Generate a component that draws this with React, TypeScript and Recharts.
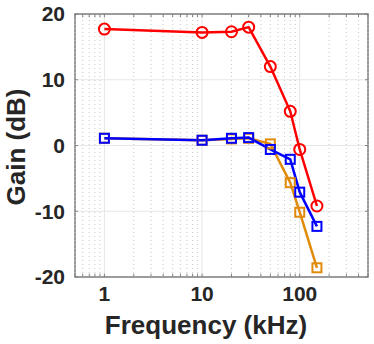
import React from 'react';
import { LineChart, Line, XAxis, YAxis, CartesianGrid, ReferenceLine, ReferenceArea, Label } from 'recharts';

// frequency points (kHz)
const freqs = [1, 10, 20, 30, 50, 80, 100, 150];
const redGain = [17.7, 17.2, 17.3, 18.0, 12.0, 5.2, -0.6, -9.2];
const blueGain = [1.1, 0.8, 1.1, 1.2, -0.6, -2.1, -7.1, -12.3];
const orangeGain = [1.1, 0.8, 1.0, 1.1, 0.25, -5.65, -10.15, -18.6];

const xTicks = [1, 10, 100];
const yTicks = [-20, -10, 0, 10, 20];
const xMinor = [0.5, 0.6, 0.7, 0.8, 0.9, 2, 3, 4, 5, 6, 7, 8, 9, 20, 30, 40, 50, 60, 70, 80, 90, 200, 300, 400, 500];

const data = freqs.map((f, i) => ({ f, red: redGain[i], blue: blueGain[i], orange: orangeGain[i] }));

const font = '"Liberation Sans", Arial, sans-serif';
const textColor = '#262626';

const squareDot = (color: string) => (props: any) => {
  const { cx, cy, index } = props;
  return <rect key={`sq-${color}-${index}`} x={cx - 4.5} y={cy - 4.5} width={9} height={9} fill="none" stroke={color} strokeWidth={2} />;
};

const circleDot = (props: any) => {
  const { cx, cy, index } = props;
  return <circle key={`c-${index}`} cx={cx} cy={cy} r={5.5} fill="none" stroke="#FF0000" strokeWidth={2} />;
};

export default function App() {
  const tickStyle = { fill: textColor, fontSize: 21, fontWeight: 700, fontFamily: font };
  const labelStyle = { fill: textColor, fontSize: 26, fontWeight: 700, fontFamily: font };

  return (
    <div style={{ position: 'absolute', left: 0, top: 0 }}>
      <LineChart width={374} height={344} data={data} margin={{ top: 14, right: 6, left: 0, bottom: 0 }}>
        {xMinor.map((v) => (
          <ReferenceLine key={`mg-${v}`} x={v} stroke="#c8c8c8" strokeDasharray="1 3" strokeWidth={1} />
        ))}
        <CartesianGrid stroke="#e6e6e6" strokeWidth={1} />
        {/* inside tick marks */}
        {[...xMinor, ...xTicks].map((v) => (
          <ReferenceLine key={`tb-${v}`} segment={[{ x: v, y: -20 }, { x: v, y: -19.5 }]} stroke="#808080" />
        ))}
        {[...xMinor, ...xTicks].map((v) => (
          <ReferenceLine key={`tt-${v}`} segment={[{ x: v, y: 20 }, { x: v, y: 19.5 }]} stroke="#808080" />
        ))}
        {yTicks.map((v) => (
          <ReferenceLine key={`yl-${v}`} segment={[{ x: 0.5, y: v }, { x: 0.535, y: v }]} stroke="#808080" />
        ))}
        {yTicks.map((v) => (
          <ReferenceLine key={`yr-${v}`} segment={[{ x: 500, y: v }, { x: 467, y: v }]} stroke="#808080" />
        ))}
        <ReferenceArea x1={0.5} x2={500} y1={-20} y2={20} fill="none" stroke="#808080" strokeWidth={1.5} />
        <XAxis
          dataKey="f"
          type="number"
          scale="log"
          domain={[0.5, 500]}
          ticks={xTicks}
          allowDataOverflow
          height={67}
          axisLine={false}
          tickLine={false}
          tickSize={0}
          tickMargin={9}
          tick={tickStyle}
        >
          <Label
            content={() => (
              <text x={206} y={334} textAnchor="middle" style={labelStyle}>
                Frequency (kHz)
              </text>
            )}
          />
        </XAxis>
        <YAxis
          type="number"
          domain={[-20, 20]}
          ticks={yTicks}
          width={75}
          axisLine={false}
          tickLine={false}
          tickSize={0}
          tickMargin={10}
          tick={tickStyle}
        >
          <Label
            content={() => (
              <text x={0} y={0} transform="translate(25 147) rotate(-90)" textAnchor="middle" style={labelStyle}>
                Gain (dB)
              </text>
            )}
          />
        </YAxis>
        <Line dataKey="orange" stroke="#E08B0A" strokeWidth={2.5} dot={squareDot('#E08B0A')} isAnimationActive={false} />
        <Line dataKey="blue" stroke="#0000FF" strokeWidth={2.5} dot={squareDot('#0000FF')} isAnimationActive={false} />
        <Line dataKey="red" stroke="#FF0000" strokeWidth={2.5} dot={circleDot} isAnimationActive={false} />
      </LineChart>
    </div>
  );
}
